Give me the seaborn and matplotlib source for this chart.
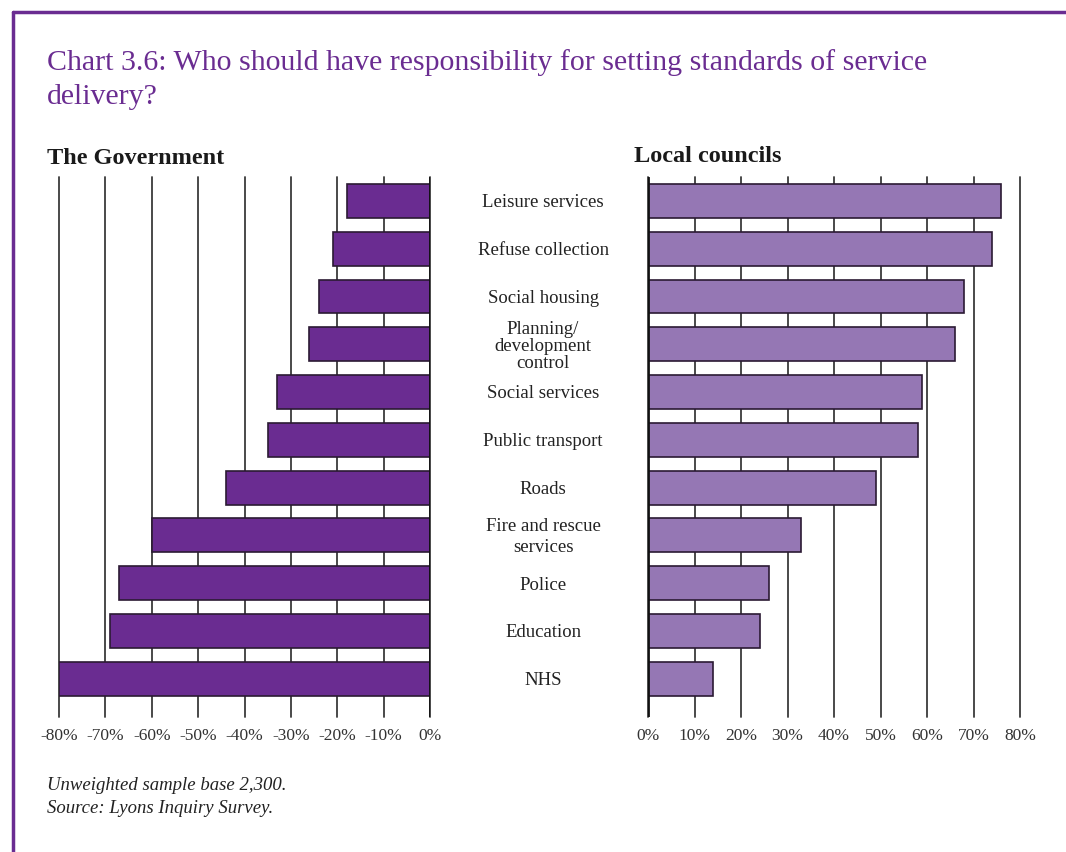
import matplotlib
matplotlib.use("Agg")
import matplotlib.pyplot as plt
import matplotlib.transforms as mtransforms
from matplotlib.lines import Line2D
import seaborn as sns
import pandas as pd

services = ["Leisure services", "Refuse collection", "Social housing",
            "Planning/\ndevelopment\ncontrol", "Social services", "Public transport",
            "Roads", "Fire and rescue\nservices", "Police", "Education", "NHS"]
government = [18, 21, 24, 26, 33, 35, 44, 60, 67, 69, 80]
local_councils = [76, 74, 68, 66, 59, 58, 49, 33, 26, 24, 14]
ticks = [0, 10, 20, 30, 40, 50, 60, 70, 80]

PURPLE_DARK = "#6a2c91"
PURPLE_LIGHT = "#9577b4"
GRID = "#3a3a3a"

sns.set_style("white")
plt.rcParams["font.family"] = ["Liberation Serif", "DejaVu Serif"]

df = pd.DataFrame({"service": services,
                   "gov": [-v for v in government],
                   "local": local_councils})

fig = plt.figure(figsize=(10.66, 8.52), dpi=100)
ax_l = fig.add_axes([59 / 1066, 1 - 717 / 852, 371 / 1066, 540 / 852])
ax_r = fig.add_axes([648 / 1066, 1 - 717 / 852, 372 / 1066, 540 / 852])

sns.barplot(data=df, x="gov", y="service", order=services, ax=ax_l,
            color=PURPLE_DARK, saturation=1, width=0.71,
            edgecolor="#2b1a33", linewidth=1.2, orient="h")
sns.barplot(data=df, x="local", y="service", order=services, ax=ax_r,
            color=PURPLE_LIGHT, saturation=1, width=0.71,
            edgecolor="#2b1a33", linewidth=1.2, orient="h")

for ax in (ax_l, ax_r):
    ax.set_ylim(10.8, -0.5)
    ax.set_xlabel("")
    ax.set_ylabel("")
    ax.set_yticks([])
    ax.grid(axis="x", color=GRID, linewidth=1.3)
    ax.grid(axis="y", visible=False)
    ax.set_axisbelow(True)
    for s in ax.spines.values():
        s.set_visible(False)
    ax.tick_params(axis="x", length=0, pad=8, labelsize=12.5, labelcolor="#333333")

ax_l.set_xlim(-80, 0)
ax_l.set_xticks([-t for t in ticks[::-1]])
ax_l.set_xticklabels([f"-{t}%" if t else "0%" for t in ticks[::-1]])
ax_l.axvline(0, color="#111111", linewidth=2, zorder=5)

ax_r.set_xlim(0, 80)
ax_r.set_xticks(ticks)
ax_r.set_xticklabels([f"{t}%" for t in ticks])
ax_r.axvline(0, color="#111111", linewidth=2, zorder=5)

for ax in (ax_l, ax_r):
    for gl in ax.get_xgridlines():
        gl.set_clip_on(False)

# category labels between the two panels
trans = mtransforms.blended_transform_factory(ax_r.transAxes, ax_r.transData)
for i, name in enumerate(services):
    n_lines = name.count("\n") + 1
    ls = 1.0 if n_lines == 3 else 1.3
    ax_r.text(-0.282, i + 0.04, name, transform=trans, ha="center", va="center",
              fontsize=13.5, color="#222222", linespacing=ls)

fig.text(47 / 1066, 1 - 80 / 852,
         "Chart 3.6: Who should have responsibility for setting standards of service\ndelivery?",
         fontsize=21.5, color=PURPLE_DARK, va="center", linespacing=1.4)
fig.text(47 / 1066, 1 - 158 / 852, "The Government", fontsize=17.5,
         fontweight="bold", color="#1a1a1a", va="center")
fig.text(634 / 1066, 1 - 157 / 852, "Local councils", fontsize=17.5,
         fontweight="bold", color="#1a1a1a", va="center")
fig.text(47 / 1066, 1 - 797 / 852,
         "Unweighted sample base 2,300.\nSource: Lyons Inquiry Survey.",
         fontsize=13.5, style="italic", color="#222222", va="center", linespacing=1.4)

# purple frame on top and left
fig.add_artist(Line2D([13 / 1066, 1], [1 - 12 / 852, 1 - 12 / 852],
                      transform=fig.transFigure, color=PURPLE_DARK, linewidth=2.5))
fig.add_artist(Line2D([13 / 1066, 13 / 1066], [0, 1 - 12 / 852],
                      transform=fig.transFigure, color=PURPLE_DARK, linewidth=2.5))

fig.savefig("out.png", dpi=100)
